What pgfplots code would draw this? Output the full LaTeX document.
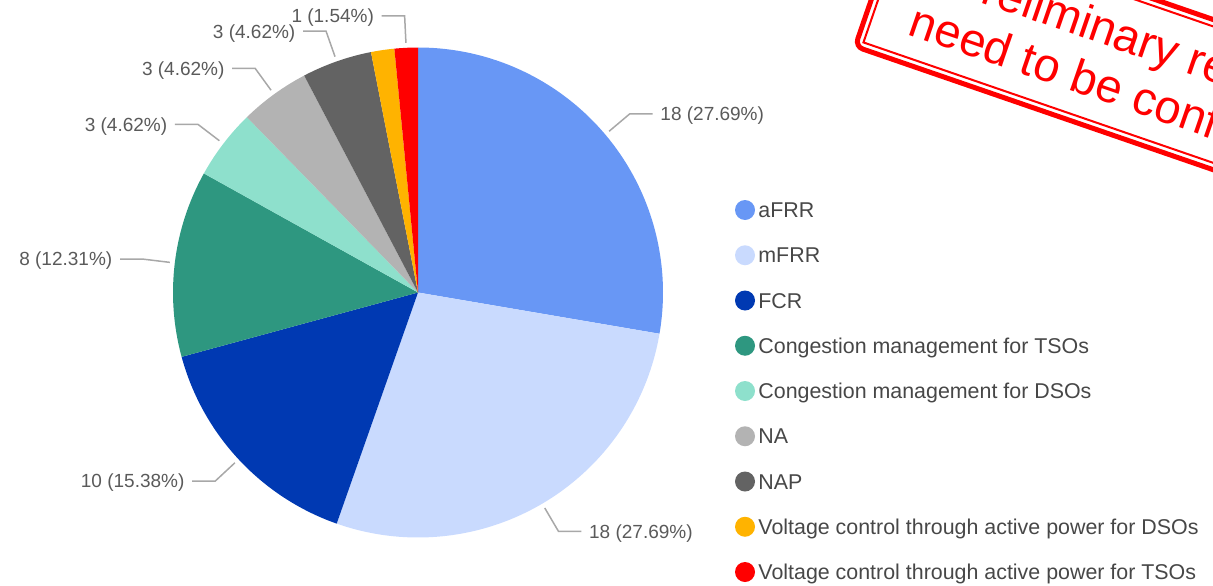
\documentclass[border=0pt]{standalone}
\usepackage{fontspec}
\setmainfont{Liberation Sans}
\usepackage{pgfplots}
\pgfplotsset{compat=1.18}
\definecolor{cA}{HTML}{6897F5}
\definecolor{cB}{HTML}{C9DAFE}
\definecolor{cC}{HTML}{0039B2}
\definecolor{cD}{HTML}{2E9780}
\definecolor{cE}{HTML}{8EE0CC}
\definecolor{cF}{HTML}{B3B3B3}
\definecolor{cG}{HTML}{636363}
\definecolor{cH}{HTML}{FFB300}
\definecolor{cI}{HTML}{FF0000}
\definecolor{Lead}{HTML}{A8A8A8}
\definecolor{LabTxt}{HTML}{5A5A5A}
\definecolor{LegTxt}{HTML}{474747}
\definecolor{Stamp}{HTML}{FF0000}

\begin{document}
\begin{tikzpicture}
% one axis unit = one pixel of the reference (0.5pt)
\begin{axis}[scale only axis,width=606.5pt,height=292.5pt,
  xmin=0,xmax=1213,ymin=0,ymax=585,hide axis,clip=false]
\coordinate (BL) at (axis cs:0,0);
\coordinate (TR) at (axis cs:1213,585);
\coordinate (StampO) at (axis cs:852,537);
\pgfplotsextra{
  \xdef\startang{90}
  \foreach \v/\col/\pct/\show/\name [count=\i] in {
      18/cA/{18 (27.69\%)}/1/{aFRR},
      18/cB/{18 (27.69\%)}/1/{mFRR},
      10/cC/{10 (15.38\%)}/1/{FCR},
      8/cD/{8 (12.31\%)}/1/{Congestion management for TSOs},
      3/cE/{3 (4.62\%)}/1/{Congestion management for DSOs},
      3/cF/{3 (4.62\%)}/1/{NA},
      3/cG/{3 (4.62\%)}/1/{NAP},
      1/cH/{1 (1.54\%)}/0/{Voltage control through active power for DSOs},
      1/cI/{1 (1.54\%)}/1/{Voltage control through active power for TSOs}}{
    \pgfmathsetmacro\s{\startang}
    \pgfmathsetmacro\e{\s-\v*360/65}
    \pgfmathsetmacro\m{(\s+\e)/2}
    \xdef\startang{\e}
    \fill[\col] (axis cs:418,292.5) -- ++(\s:122.5pt)
      arc[start angle=\s,end angle=\e,radius=122.5pt] -- cycle;
    \ifnum\show=1
      \pgfmathparse{cos(\m)>0}
      \ifdim\pgfmathresult pt>0.5pt
        \def\sd{1}\def\anc{base west}
      \else
        \def\sd{-1}\def\anc{base east}
      \fi
      \draw[Lead,line width=0.75pt] (axis cs:418,292.5) ++(\m:125pt)
        -- ++(\m:13.5pt) -- ++(\sd*11.5pt,0pt)
        node[anchor=\anc,inner sep=0pt,xshift=\sd*3.5pt,yshift=-3.4pt,
          text=LabTxt,font=\fontsize{9.5}{11}\selectfont] {\pct};
    \fi
    % legend
    \pgfmathsetmacro\ly{375-(\i-1)*45.25}
    \pgfmathsetmacro\lb{\ly-7.6}
    \fill[\col] (axis cs:745,\ly) circle[radius=5pt];
    \node[anchor=base west,inner sep=0pt,text=LegTxt,
      font=\fontsize{10.7}{12}\selectfont] at (axis cs:758,\lb) {\name};
  }
}
\end{axis}
\begin{scope}
  \clip (BL) rectangle (TR);
  \begin{scope}[shift={(StampO)},rotate=-19,x=0.5pt,y=0.5pt]
    \draw[Stamp,line width=2.5pt,rounded corners=4pt] (2.5,2.5) rectangle (534,144.5);
    \draw[Stamp,line width=1pt] (9,9) rectangle (527.5,138);
    \node[transform shape,anchor=base,inner sep=0pt,text=Stamp,
      font=\fontsize{23.5}{25}\selectfont] at (268,85) {Preliminary results};
    \node[transform shape,anchor=base,inner sep=0pt,text=Stamp,
      font=\fontsize{23.5}{25}\selectfont] at (268,31) {need to be confirmed};
  \end{scope}
\end{scope}
\pgfresetboundingbox
\path[use as bounding box] (BL) rectangle (TR);
\end{tikzpicture}
\end{document}
